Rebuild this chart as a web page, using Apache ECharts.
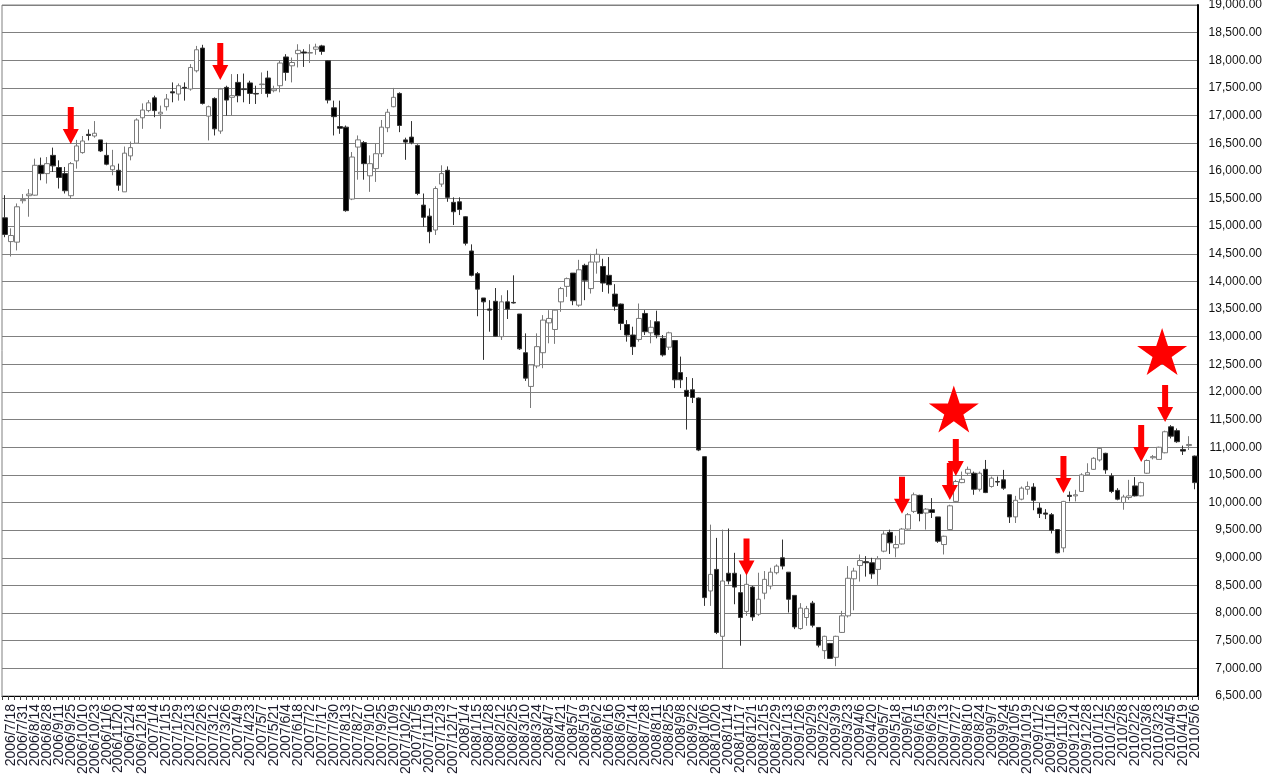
<!DOCTYPE html>
<html><head><meta charset="utf-8">
<script src="https://cdn.jsdelivr.net/npm/echarts@6/dist/echarts.min.js"></script>
<style>html,body{margin:0;padding:0;background:#fff}#c{width:1264px;height:774px}</style>
</head><body><div id="c"></div>
<script>
const dates = [
"2006/7/10","2006/7/18","2006/7/24","2006/7/31","2006/8/7","2006/8/14","2006/8/21","2006/8/28","2006/9/4","2006/9/11",
"2006/9/19","2006/9/25","2006/10/2","2006/10/10","2006/10/16","2006/10/23","2006/10/30","2006/11/6","2006/11/13","2006/11/20",
"2006/11/27","2006/12/4","2006/12/11","2006/12/18","2006/12/25",
"2007/1/4","2007/1/9","2007/1/15","2007/1/22","2007/1/29","2007/2/5","2007/2/13","2007/2/19","2007/2/26","2007/3/5",
"2007/3/12","2007/3/19","2007/3/26","2007/4/2","2007/4/9","2007/4/16","2007/4/23","2007/5/1","2007/5/7","2007/5/14",
"2007/5/21","2007/5/28","2007/6/4","2007/6/11","2007/6/18","2007/6/25","2007/7/2","2007/7/9","2007/7/17","2007/7/23",
"2007/7/30","2007/8/6","2007/8/13","2007/8/20","2007/8/27","2007/9/3","2007/9/10","2007/9/18","2007/9/25","2007/10/1",
"2007/10/9","2007/10/15","2007/10/22","2007/10/29","2007/11/5","2007/11/12","2007/11/19","2007/11/26","2007/12/3","2007/12/10",
"2007/12/17","2007/12/25",
"2008/1/4","2008/1/7","2008/1/15","2008/1/21","2008/1/28","2008/2/4","2008/2/12","2008/2/18","2008/2/25","2008/3/3",
"2008/3/10","2008/3/17","2008/3/24","2008/3/31","2008/4/7","2008/4/14","2008/4/21","2008/4/28","2008/5/7","2008/5/12",
"2008/5/19","2008/5/26","2008/6/2","2008/6/9","2008/6/16","2008/6/23","2008/6/30","2008/7/7","2008/7/14","2008/7/22",
"2008/7/28","2008/8/4","2008/8/11","2008/8/18","2008/8/25","2008/9/1","2008/9/8","2008/9/16","2008/9/22","2008/9/29",
"2008/10/6","2008/10/14","2008/10/20","2008/10/27","2008/11/4","2008/11/10","2008/11/17","2008/11/25","2008/12/1","2008/12/8",
"2008/12/15","2008/12/22","2008/12/29",
"2009/1/5","2009/1/13","2009/1/19","2009/1/26","2009/2/2","2009/2/9","2009/2/16","2009/2/23","2009/3/2","2009/3/9",
"2009/3/16","2009/3/23","2009/3/30","2009/4/6","2009/4/13","2009/4/20","2009/4/27","2009/5/7","2009/5/11","2009/5/18",
"2009/5/25","2009/6/1","2009/6/8","2009/6/15","2009/6/22","2009/6/29","2009/7/6","2009/7/13","2009/7/21","2009/7/27",
"2009/8/3","2009/8/10","2009/8/17","2009/8/24","2009/8/31","2009/9/7","2009/9/14","2009/9/24","2009/9/28","2009/10/5",
"2009/10/13","2009/10/19","2009/10/26","2009/11/2","2009/11/9","2009/11/16","2009/11/24","2009/11/30","2009/12/7","2009/12/14",
"2009/12/21","2009/12/28",
"2010/1/4","2010/1/12","2010/1/18","2010/1/25","2010/2/1","2010/2/8","2010/2/15","2010/2/22","2010/3/1","2010/3/8",
"2010/3/15","2010/3/23","2010/3/29","2010/4/5","2010/4/12","2010/4/19","2010/4/26","2010/5/6"
];

const opens = [
15150,14720,14710,15460,15550,15560,16100,15950,16280,16060,15950,15550,16180,16330,16660,16630,16560,16280,16020,16010,
15620,16270,16500,16960,17090,17320,17030,17160,17430,17390,17510,17480,17810,18220,16990,17310,16720,17510,17330,17600,
17480,17590,17400,17560,17680,17450,17540,18060,17900,18120,18150,18130,18200,18260,17990,17140,16800,16790,15490,16430,
16510,15910,16040,16310,16780,17160,17400,16560,16610,16460,15380,15180,14930,15760,16010,15430,15440,15170,14550,14140,
13700,13500,13640,13000,13630,13620,13410,12710,12100,12470,12710,13250,13130,13630,13910,14150,13570,14290,13870,14350,
14270,14110,13770,13590,13220,13030,12950,13420,13070,13270,12970,12810,12930,12350,12030,12040,11890,10830,8400,8790,
7580,8720,8720,8370,8030,8470,7980,8360,8490,8730,9000,8740,8320,7720,7920,8180,7740,7320,7450,7200,
7650,7950,8620,8860,8930,8910,8790,9120,9460,9180,9250,9520,9840,10130,9810,9870,9740,9240,9510,10020,
10360,10530,10530,10240,10600,10290,10380,10410,10140,9740,10060,10240,10280,9900,9810,9780,9510,9180,10130,10120,
10200,10500,10600,10770,10890,10480,10220,10000,10090,10300,10120,10530,10810,10780,10900,11370,11300,10960,11030,10840
];
const closes = [
14850,14830,15350,15480,15580,16100,15950,16130,16090,15880,15640,16130,16450,16540,16640,16680,16360,16120,16090,15740,
16320,16420,16920,17100,17230,17090,17060,17300,17410,17540,17500,17870,18190,17220,17160,16760,17480,17280,17360,17360,
17470,17400,17390,17570,17400,17480,17950,17780,17960,18180,18130,18140,18240,18160,17280,16980,16770,15280,16250,16560,
16130,16130,16310,16790,17060,17330,16820,16520,16510,15590,15160,14900,15680,15950,15520,15260,15300,14690,14110,13860,
13630,13480,13010,13630,13500,13610,12780,12250,12490,12820,13300,13330,13480,13870,14050,13650,14210,14020,14350,14490,
13970,13940,13550,13240,13030,12820,13330,13090,13170,13030,12670,13070,12220,12220,11920,11900,10950,8280,8700,7650,
8580,8580,8470,7920,8520,7930,8250,8610,8740,8850,8850,8250,7750,8090,8080,7780,7420,7580,7180,7580,
7950,8630,8760,8950,8910,8710,8980,9430,9270,9240,9520,9780,10140,9800,9880,9820,9300,9390,9940,10380,
10420,10600,10240,10530,10180,10440,10370,10260,9740,10040,10260,10290,10040,9800,9790,9500,9090,10020,10110,10140,
10500,10540,10800,10980,10590,10200,10060,10100,10120,10120,10360,10760,10830,11000,11280,11200,11100,10930,11050,10360
];
const lows = [
14800,14450,14560,15410,15170,15550,15830,15770,15980,15680,15590,15490,16040,16310,16550,16600,16340,16100,15920,15640,
15620,16190,16500,16760,17060,16970,16760,17090,17240,17270,17270,17450,17780,17200,16550,16640,16670,17000,17000,17240,
17240,17210,17210,17390,17330,17420,17420,17630,17600,17870,17880,17950,18100,18100,17220,16640,16670,15260,15470,15840,
15840,15620,15800,16250,16700,17150,16700,16200,16480,15560,14990,14690,14840,15710,15440,15020,15200,14650,14090,13370,
12580,13090,13000,12940,13320,13600,12760,12200,11710,12430,12430,12880,12870,13450,13720,13570,13540,13660,13780,14140,
13810,13780,13470,13120,12910,12670,12910,13030,12880,12970,12640,12760,12070,12070,11320,11800,10930,8130,8130,7620,
7000,8520,8160,7410,7950,7860,7950,8250,8430,8700,8790,8010,7710,7700,7770,7740,7380,7170,7170,7040,
7640,7920,8050,8570,8660,8620,8510,9100,9070,9010,9240,9510,9810,9660,9510,9720,9270,9060,9500,10010,
10350,10500,10140,10200,10170,10270,10300,10230,9630,9630,10040,10140,9860,9720,9700,9440,9080,9100,10020,10020,
10190,10480,10590,10740,10520,10170,10040,9870,10050,10110,10110,10520,10780,10780,10890,11160,11080,10860,10950,10240
];
const highs = [
15560,14960,15410,15580,15670,16220,16240,16250,16420,16190,16070,16160,16560,16630,16750,16900,16560,16510,16380,16130,
16440,16530,16950,17220,17280,17360,17180,17390,17600,17580,17600,17930,18260,18280,17180,17330,17500,17540,17750,17750,
17760,17630,17540,17780,17810,17540,17990,18110,18050,18290,18200,18290,18300,18280,18000,17270,17270,16820,16340,16640,
16540,16280,16490,16920,17120,17500,17420,16600,16900,16480,15590,15320,15720,16100,16080,15520,15520,15180,14670,14170,
13700,13660,13880,13750,13840,14110,13410,13060,12490,13060,13390,13480,13490,13900,14070,14150,14390,14320,14500,14590,
14410,14440,13950,13600,13300,13180,13600,13480,13300,13470,13030,13090,12940,12640,12270,12250,11900,10830,9600,9360,
9510,9530,9090,8700,8880,8490,8730,8760,8820,8880,9330,8740,8320,8180,8130,8220,7740,7590,7460,7590,
8040,8850,8820,9060,9030,9000,9030,9480,9510,9400,9540,9810,10180,10140,9900,10080,9740,9400,9960,10410,
10560,10650,10560,10560,10770,10470,10470,10590,10140,10120,10290,10380,10350,9990,9880,9810,9520,10030,10200,10230,
10530,10710,10820,11000,10900,10530,10260,10140,10410,10460,10380,10780,10860,11010,11300,11400,11340,11030,11200,10850
];

// red marker arrows: category index and price at the arrow tip
const arrowIdx = [11, 36, 124, 150, 158, 159, 177, 190, 194];
const arrowTip = [16486, 17643, 8680, 9795, 10045, 10480, 10172, 10733, 11456];
// red stars: category index and price at the star centre
const starIdx = [159, 194];
const starVal = [11692, 12732];

const yMin = 6500, yMax = 19000, yStep = 500;

const arrowPath = 'path://M5,0L11,0L11,22L16,22L8,37L0,22L5,22Z';
const starPath = 'path://M50,0L61.2,34.5L97.6,34.5L68.2,55.9L79.4,90.5L50,69.1L20.6,90.5L31.8,55.9L2.4,34.5L38.8,34.5Z';

const marks = [];
arrowIdx.forEach((ix, k) => marks.push({
  coord: [ix, arrowTip[k]], symbol: arrowPath, symbolSize: [16, 37], symbolOffset: [0, -18.5],
  itemStyle: { color: '#ff0000' }
}));
const starShift = [-2, -3];
starIdx.forEach((ix, k) => marks.push({
  coord: [ix, starVal[k]], symbol: starPath, symbolSize: [50, 47], symbolOffset: [starShift[k], 0],
  itemStyle: { color: '#ff0000' }
}));

const chart = echarts.init(document.getElementById('c'), null, { renderer: 'canvas' });
chart.setOption({
  animation: false,
  backgroundColor: '#ffffff',
  grid: { left: 2, right: 66, top: 5, bottom: 78, containLabel: false, outerBoundsMode: 'none',
          show: true, borderColor: '#808080', borderWidth: 1, backgroundColor: 'transparent' },
  xAxis: {
    type: 'category',
    data: dates,
    boundaryGap: true,
    axisLine: { show: true, lineStyle: { color: '#000000', width: 1 } },
    axisTick: { show: true, interval: 0, length: 4, lineStyle: { color: '#444444' } },
    axisLabel: {
      interval: 0,
      formatter: function (value, index) { return index % 2 === 1 ? value : ''; },
      rotate: 90, margin: 8,
      hideOverlap: false,
      showMinLabel: true, showMaxLabel: true,
      lineHeight: 11,
      fontFamily: '"Liberation Sans", Arial, sans-serif', fontSize: 14, color: '#1a1a2a'
    },
    splitLine: { show: false }
  },
  yAxis: {
    type: 'value',
    position: 'right',
    min: yMin, max: yMax, interval: yStep,
    axisLine: { show: true, lineStyle: { color: '#000000', width: 2 } },
    axisTick: { show: false },
    axisLabel: {
      margin: 64, align: 'right',
      fontFamily: '"Liberation Sans", Arial, sans-serif', fontSize: 12, color: '#111111',
      formatter: v => v.toLocaleString('en-US', { minimumFractionDigits: 2, maximumFractionDigits: 2 })
    },
    splitLine: { show: true, lineStyle: { color: '#808080', width: 1 } }
  },
  series: [{
    type: 'candlestick',
    data: dates.map((d, i) => [opens[i], closes[i], lows[i], highs[i]]),
    barWidth: 5,
    itemStyle: {
      color: '#ffffff', color0: '#000000',
      borderColor: '#7a7a7a', borderColor0: '#333333', borderColorDoji: '#444444', borderWidth: 1
    },
    markPoint: {
      data: marks,
      label: { show: false },
      animation: false,
      silent: true
    }
  }]
});
</script>
</body></html>
